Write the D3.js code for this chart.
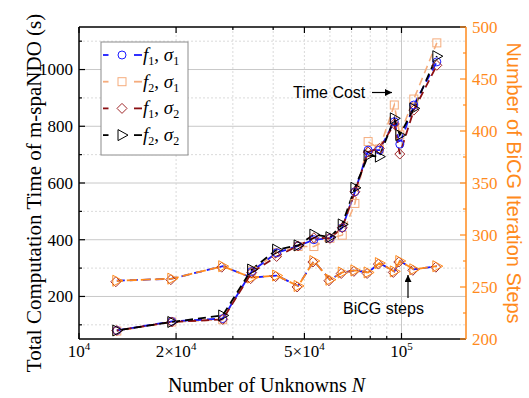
<!DOCTYPE html>
<html>
<head>
<meta charset="utf-8">
<script src="https://cdn.jsdelivr.net/npm/d3@7"></script>
<style>
  body { margin: 0; background: #fff; }
  svg { display: block; }
</style>
</head>
<body>
<div id="chart"></div>
<script>
'use strict';

// number of unknowns N for each run
var nUnknowns = [13100, 19400, 27900, 34300, 41000, 47800, 53500, 60000, 65500, 71700, 78800, 85400, 95000, 98800, 109200, 128700];

// total computation time (s)
var timeF1S1 = [80, 112, 122, 288, 354, 378, 400, 405, 442, 569, 716, 716, 816, 737, 875, 1027];
var timeF2S1 = [78, 110, 118, 290, 354, 376, 376, 405, 416, 528, 746, 720, 875, 770, 896, 1094];
var timeF1S2 = [80, 110, 119, 284, 341, 378, 407, 405, 442, 569, 709, 722, 808, 702, 857, 1015];
var timeF2S2 = [80, 110, 133, 295, 365, 380, 418, 409, 454, 583, 697, 693, 828, 769, 863, 1047];

// BiCG iteration steps (right axis)
var bicgSteps = [256, 258, 270, 259, 261, 251, 275, 257, 264, 266, 264, 273, 265, 275, 267, 270];

var leftMajor = [200, 400, 600, 800, 1000];
var leftMinor = [100, 300, 500, 700, 900, 1100];
var rightMajor = [200, 250, 300, 350, 400, 450, 500];
var rightMinor = [225, 275, 325, 375, 425, 475];
var xMajor = [1e4, 2e4, 5e4, 1e5];
var xMinor = [3e4, 4e4, 6e4, 7e4, 8e4, 9e4];
var xTickLabels = [['10', '4'], ['2\u00d710', '4'], ['5\u00d710', '4'], ['10', '5']];

var series = [
  {values: timeF2S1, color: '#f5ac7c', marker: 'square', lw: 1.6, offset: 3},
  {values: timeF1S1, color: '#1a1aff', marker: 'circle', lw: 1.8, offset: 0},
  {values: timeF1S2, color: '#8b0f12', marker: 'diamond', lw: 1.8, offset: 6},
  {values: timeF2S2, color: '#000000', marker: 'triangle', lw: 1.8, offset: 9}
];
var legendItems = [
  {sub1: '1', sub2: '1', color: '#1a1aff', marker: 'circle'},
  {sub1: '2', sub2: '1', color: '#f5ac7c', marker: 'square'},
  {sub1: '1', sub2: '2', color: '#8b0f12', marker: 'diamond'},
  {sub1: '2', sub2: '2', color: '#000000', marker: 'triangle'}
];

var orange = '#ff8a1c';
var serif = '"Liberation Serif", "Times New Roman", serif';
var sans = '"Liberation Sans", Arial, sans-serif';

var W = 529, H = 398;
var margin = {top: 27, right: 63, bottom: 59, left: 79};
var width = W - margin.left - margin.right;
var height = H - margin.top - margin.bottom;

var svg = d3.select('#chart').append('svg')
  .attr('width', W)
  .attr('height', H);

var defs = svg.append('defs');
defs.append('marker')
  .attr('id', 'arrow')
  .attr('viewBox', '0 0 10 10')
  .attr('refX', 10).attr('refY', 5)
  .attr('markerWidth', 7).attr('markerHeight', 7)
  .attr('markerUnits', 'userSpaceOnUse')
  .attr('orient', 'auto')
  .append('path')
  .attr('d', 'M0,0 L10,5 L0,10 Z')
  .attr('fill', '#000');

var g = svg.append('g').attr('transform', 'translate(' + margin.left + ',' + margin.top + ')');

var x = d3.scaleLog().domain([1e4, 1.585e5]).range([0, width]);
var yL = d3.scaleLinear().domain([50, 1150]).range([height, 0]);
var yR = d3.scaleLinear().domain([200, 500]).range([height, 0]);

// grid
var grid = g.append('g');
grid.selectAll('.hmaj').data(leftMajor).enter().append('line')
  .attr('x1', 0).attr('x2', width)
  .attr('y1', function(d) { return yL(d); }).attr('y2', function(d) { return yL(d); })
  .attr('stroke', '#c8c8c8').attr('stroke-width', 1);
grid.selectAll('.hmin').data(leftMinor).enter().append('line')
  .attr('x1', 0).attr('x2', width)
  .attr('y1', function(d) { return yL(d); }).attr('y2', function(d) { return yL(d); })
  .attr('stroke', '#d0d0d0').attr('stroke-width', 0.8).attr('stroke-dasharray', '2,2');
grid.selectAll('.vmin').data([2e4, 5e4].concat(xMinor)).enter().append('line')
  .attr('y1', 0).attr('y2', height)
  .attr('x1', function(d) { return x(d); }).attr('x2', function(d) { return x(d); })
  .attr('stroke', '#d0d0d0').attr('stroke-width', 0.8).attr('stroke-dasharray', '2,2');
grid.append('line')
  .attr('y1', 0).attr('y2', height)
  .attr('x1', x(1e5)).attr('x2', x(1e5))
  .attr('stroke', '#c8c8c8').attr('stroke-width', 1);

// marker shapes
var drawMarker = function(sel, type, color) {
  if (type === 'circle') {
    sel.append('circle').attr('r', 4);
  } else if (type === 'square') {
    sel.append('rect').attr('x', -4).attr('y', -4).attr('width', 8).attr('height', 8);
  } else if (type === 'diamond') {
    sel.append('path').attr('d', 'M0,-5L5,0L0,5L-5,0Z');
  } else {
    sel.append('path').attr('d', 'M-4,-5.5L6,0L-4,5.5Z');
  }
  sel.selectAll('*').attr('fill', 'none').attr('stroke', color).attr('stroke-width', 1);
};

// BiCG steps (right axis)
var bicgLine = d3.line()
  .x(function(d, i) { return x(nUnknowns[i]); })
  .y(function(d) { return yR(d); });

g.append('path').attr('d', bicgLine(bicgSteps))
  .attr('fill', 'none').attr('stroke', '#1a1aff').attr('stroke-width', 1.8)
  .attr('stroke-dasharray', '8,5');
g.append('path').attr('d', bicgLine(bicgSteps))
  .attr('fill', 'none').attr('stroke', orange).attr('stroke-width', 1.8)
  .attr('stroke-dasharray', '10,4').attr('stroke-dashoffset', 4);

bicgSteps.forEach(function(d, i) {
  var m1 = g.append('g').attr('transform', 'translate(' + (x(nUnknowns[i]) - 1) + ',' + (yR(d) + 1) + ')');
  drawMarker(m1, 'diamond', '#a0282a');
  var m2 = g.append('g').attr('transform', 'translate(' + x(nUnknowns[i]) + ',' + yR(d) + ')');
  drawMarker(m2, 'triangle', orange);
});

// time cost series (left axis)
var timeLine = d3.line()
  .x(function(d, i) { return x(nUnknowns[i]); })
  .y(function(d) { return yL(d); });

series.forEach(function(s) {
  g.append('path').attr('d', timeLine(s.values))
    .attr('fill', 'none').attr('stroke', s.color).attr('stroke-width', s.lw)
    .attr('stroke-dasharray', '8,5').attr('stroke-dashoffset', s.offset);
});
series.forEach(function(s) {
  s.values.forEach(function(d, i) {
    var m = g.append('g').attr('transform', 'translate(' + x(nUnknowns[i]) + ',' + yL(d) + ')');
    drawMarker(m, s.marker, s.color === '#8b0f12' ? '#a0282a' : s.color);
  });
});

// axes frame and ticks
var axes = g.append('g');
axes.append('line').attr('x1', 0).attr('x2', 0).attr('y1', 0).attr('y2', height).attr('stroke', '#000').attr('stroke-width', 1.5);
axes.append('line').attr('x1', 0).attr('x2', width).attr('y1', height).attr('y2', height).attr('stroke', '#000').attr('stroke-width', 1.5);
axes.append('line').attr('x1', 0).attr('x2', width).attr('y1', 0).attr('y2', 0).attr('stroke', '#000').attr('stroke-width', 1.5);
axes.append('line').attr('x1', width).attr('x2', width).attr('y1', 0).attr('y2', height).attr('stroke', orange).attr('stroke-width', 1.5);

var tick = function(x1, y1, x2, y2, color) {
  axes.append('line').attr('x1', x1).attr('y1', y1).attr('x2', x2).attr('y2', y2)
    .attr('stroke', color || '#000').attr('stroke-width', 1.2);
};
leftMajor.forEach(function(d) { tick(0, yL(d), 6, yL(d)); });
leftMinor.forEach(function(d) { tick(0, yL(d), 3, yL(d)); });
rightMajor.forEach(function(d) { tick(width, yR(d), width - 6, yR(d), orange); });
rightMinor.forEach(function(d) { tick(width, yR(d), width - 3, yR(d), orange); });
xMajor.forEach(function(d) {
  tick(x(d), height, x(d), height - 6);
  tick(x(d), 0, x(d), 6);
});
xMinor.forEach(function(d) {
  tick(x(d), height, x(d), height - 3);
  tick(x(d), 0, x(d), 3);
});

// tick labels
g.append('g').selectAll('text').data(leftMajor).enter().append('text')
  .attr('x', -6).attr('y', function(d) { return yL(d); })
  .attr('dy', '0.35em').attr('text-anchor', 'end')
  .style('font-family', serif).style('font-size', '17px')
  .text(function(d) { return d; });

g.append('g').selectAll('text').data(rightMajor).enter().append('text')
  .attr('x', width + 6).attr('y', function(d) { return yR(d); })
  .attr('dy', '0.35em').attr('text-anchor', 'start')
  .attr('fill', orange)
  .style('font-family', serif).style('font-size', '17px')
  .text(function(d) { return d; });

var xl = g.append('g').selectAll('text').data(xMajor).enter().append('text')
  .attr('x', function(d) { return x(d); }).attr('y', height + 18)
  .attr('text-anchor', 'middle')
  .style('font-family', serif).style('font-size', '17px');
xl.append('tspan').text(function(d, i) { return xTickLabels[i][0]; });
xl.append('tspan').attr('dy', -7).style('font-size', '11px').text(function(d, i) { return xTickLabels[i][1]; });

// axis titles
var xt = svg.append('text')
  .attr('x', margin.left + width / 2 - 6).attr('y', 392)
  .attr('text-anchor', 'middle')
  .style('font-family', serif).style('font-size', '20px');
xt.append('tspan').text('Number of Unknowns ');
xt.append('tspan').style('font-style', 'italic').text('N');

svg.append('text')
  .attr('transform', 'translate(41,' + (margin.top + height / 2 + 10) + ') rotate(-90)')
  .attr('text-anchor', 'middle')
  .style('font-family', serif).style('font-size', '21px')
  .text('Total Computation Time of m-spaNDO (s)');

svg.append('text')
  .attr('transform', 'translate(507,' + (margin.top + height / 2) + ') rotate(90)')
  .attr('text-anchor', 'middle')
  .attr('fill', orange)
  .style('font-family', sans).style('font-size', '20px')
  .text('Number of BiCG Iteration Steps');

// legend
var legend = svg.append('g').attr('transform', 'translate(101,42)');
legend.append('rect')
  .attr('width', 87).attr('height', 113)
  .attr('fill', '#fff').attr('stroke', '#8c8c8c').attr('stroke-width', 1);
legendItems.forEach(function(d, i) {
  var row = legend.append('g').attr('transform', 'translate(0,' + (13 + i * 26.7) + ')');
  row.append('line').attr('x1', 2).attr('x2', 7.5).attr('y1', 0).attr('y2', 0)
    .attr('stroke', d.color).attr('stroke-width', 1.8);
  row.append('line').attr('x1', 33).attr('x2', 41).attr('y1', 0).attr('y2', 0)
    .attr('stroke', d.color).attr('stroke-width', 1.8);
  var m = row.append('g').attr('transform', 'translate(21,0)');
  drawMarker(m, d.marker, d.color === '#8b0f12' ? '#a0282a' : d.color);
  var t = row.append('text').attr('x', 42).attr('y', 6)
    .style('font-family', serif).style('font-size', '19px');
  t.append('tspan').style('font-style', 'italic').text('f');
  t.append('tspan').attr('dy', 4).style('font-size', '12px').text(d.sub1);
  t.append('tspan').attr('dy', -4).text(', ');
  t.append('tspan').style('font-style', 'italic').text('\u03c3');
  t.append('tspan').attr('dy', 4).style('font-size', '12px').text(d.sub2);
});

// annotations
svg.append('text').attr('x', 293).attr('y', 98)
  .style('font-family', sans).style('font-size', '16px')
  .text('Time Cost');
svg.append('line').attr('x1', 372).attr('y1', 92.5).attr('x2', 392).attr('y2', 92.5)
  .attr('stroke', '#000').attr('stroke-width', 1.2).attr('marker-end', 'url(#arrow)');

svg.append('text').attr('x', 343).attr('y', 314)
  .style('font-family', sans).style('font-size', '16px')
  .text('BiCG steps');
svg.append('line').attr('x1', 408).attr('y1', 298).attr('x2', 408).attr('y2', 275)
  .attr('stroke', '#000').attr('stroke-width', 1.2).attr('marker-end', 'url(#arrow)');
</script>
</body>
</html>
